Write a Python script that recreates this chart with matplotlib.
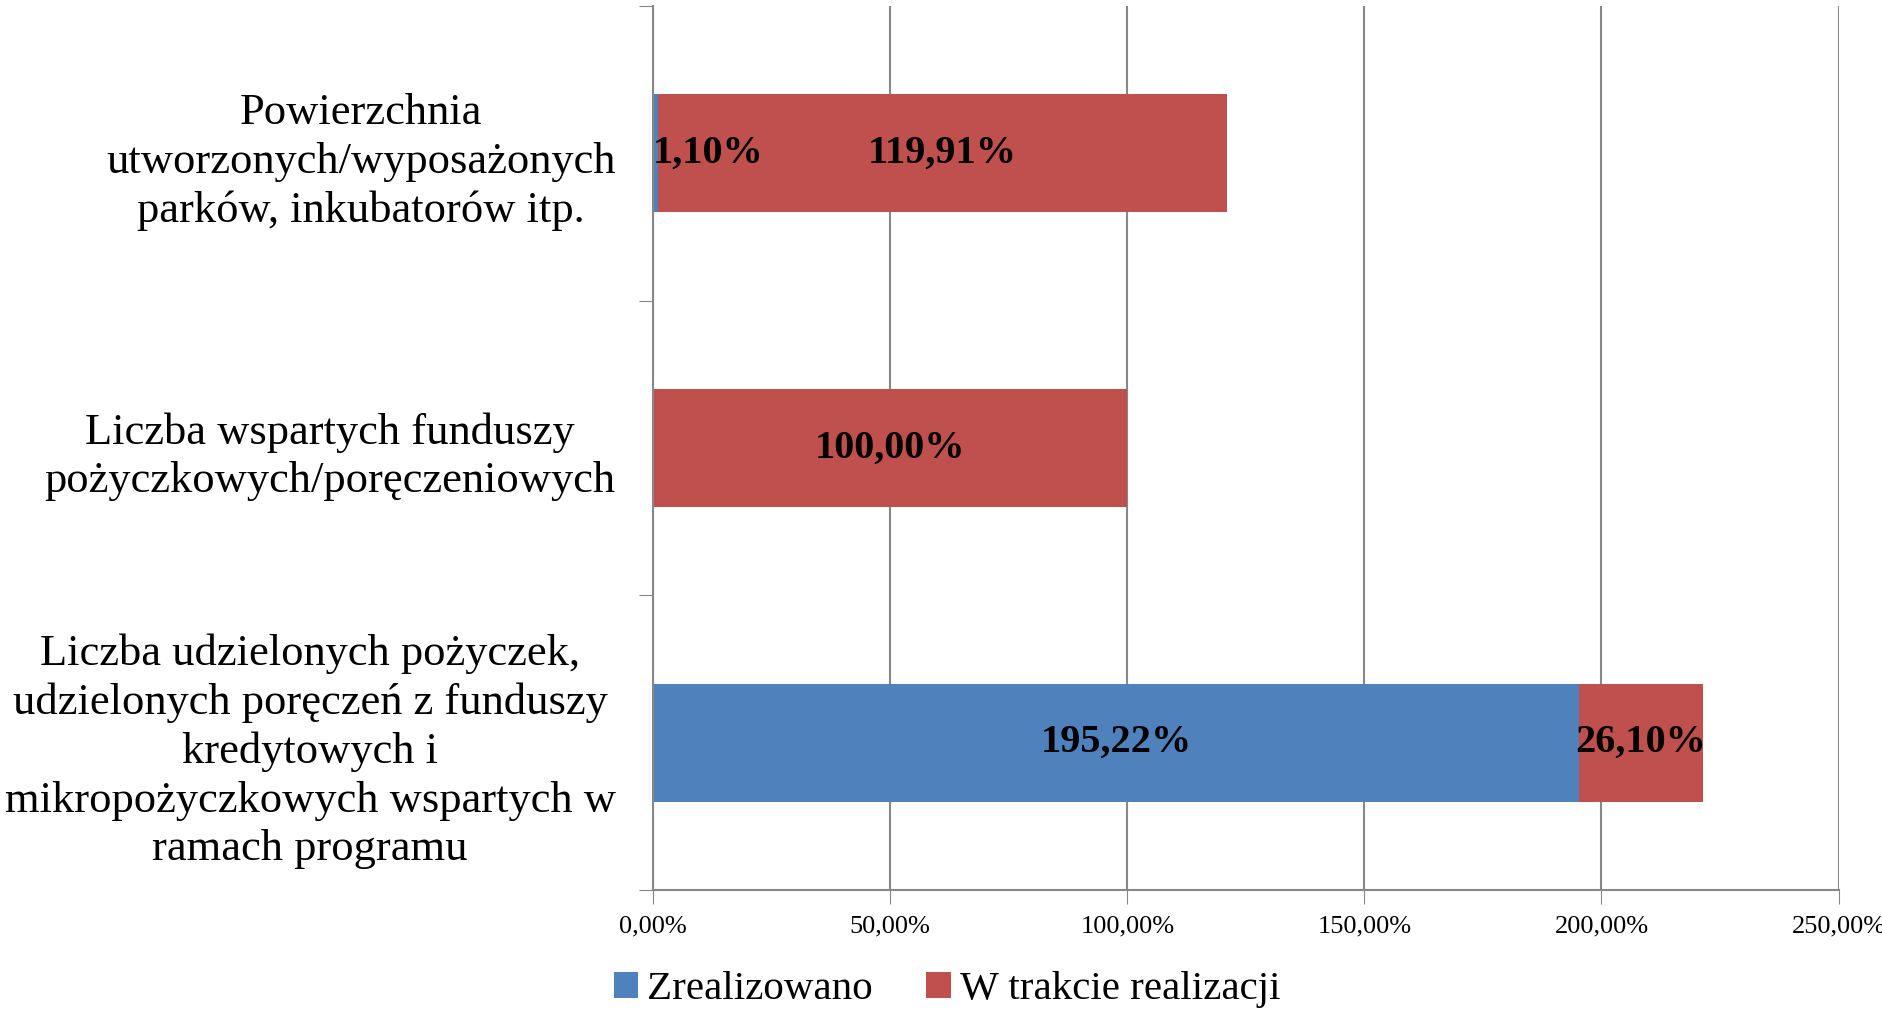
import numpy as np
import matplotlib.pyplot as plt
from matplotlib.ticker import FuncFormatter

# Categories (top to bottom) and the two stacked series, in percent
categories = [
    "Powierzchnia\nutworzonych/wyposażonych\nparków, inkubatorów itp.",
    "Liczba wspartych funduszy\npożyczkowych/poręczeniowych",
    "Liczba udzielonych pożyczek,\nudzielonych poręczeń z funduszy\nkredytowych i\nmikropożyczkowych wspartych w\nramach programu",
]
zrealizowano = [1.10, 0.0, 195.22]
w_trakcie = [119.91, 100.00, 26.10]
series_names = ["Zrealizowano", "W trakcie realizacji"]
colors = ["#4F81BD", "#C0504D"]

plt.rcParams['font.family'] = ['Liberation Serif', 'DejaVu Serif']

fig = plt.figure(figsize=(18.83, 10.10), dpi=100)
ax = fig.add_axes([0.3468, 0.1188, 0.6296, 0.8752])

y = np.arange(len(categories))
bars1 = ax.barh(y, zrealizowano, height=0.4, color=colors[0], label=series_names[0])
bars2 = ax.barh(y, w_trakcie, height=0.4, left=zrealizowano, color=colors[1], label=series_names[1])

# Data labels in the middle of each segment (skip empty ones)
for lefts, widths in [(np.zeros(len(y)), zrealizowano), (zrealizowano, w_trakcie)]:
    for yi, l, w in zip(y, lefts, widths):
        if w <= 0:
            continue
        txt = f"{w:.2f}".replace(".", ",") + "%"
        if l + w / 2 < 12:
            ax.text(l, yi, txt, ha="left", va="center", fontsize=29, fontweight="bold")
        else:
            ax.text(l + w / 2, yi, txt, ha="center", va="center", fontsize=29, fontweight="bold")

ax.set_xlim(0, 250)
ax.set_ylim(2.5, -0.5)
ax.set_xticks(np.arange(0, 251, 50))
ax.xaxis.set_major_formatter(FuncFormatter(lambda v, p: f"{v:.2f}".replace(".", ",") + "%"))
ax.tick_params(axis="x", labelsize=19, length=10, color="#888888", pad=8)

ax.set_yticks([-0.5, 0.5, 1.5, 2.5])
ax.set_yticklabels([])
ax.tick_params(axis="y", which="major", length=10, color="#888888")
ax.set_yticks(y, minor=True)
ax.set_yticklabels(categories, minor=True, fontsize=32, ha="right", multialignment="center",
                   linespacing=1.27)
ax.tick_params(axis="y", which="minor", length=0, pad=27)

ax.grid(axis="x", color="#888888", linewidth=1.5)
ax.set_axisbelow(True)
for s in ["top", "right"]:
    ax.spines[s].set_visible(False)
for s in ["left", "bottom"]:
    ax.spines[s].set_color("#888888")
    ax.spines[s].set_linewidth(1.5)

fig.legend(handles=[bars1, bars2], loc="lower center", bbox_to_anchor=(0.503, -0.035), ncol=2,
           frameon=False, fontsize=29.5, handlelength=0.6, handleheight=0.6,
           handletextpad=0.22, columnspacing=1.3)

plt.savefig("out.png", dpi=100)
